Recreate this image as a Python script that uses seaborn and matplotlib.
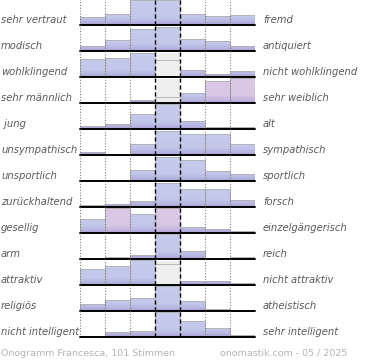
import numpy as np
import pandas as pd
import matplotlib
matplotlib.use("Agg")
import matplotlib.pyplot as plt
import seaborn as sns
from matplotlib.colors import LinearSegmentedColormap

LEFT_LABELS = ["sehr vertraut", "modisch", "wohlklingend", "sehr männlich", " jung",
               "unsympathisch", "unsportlich", "zurückhaltend", "gesellig", "arm",
               "attraktiv", "religiös", "nicht intelligent"]
RIGHT_LABELS = ["fremd", "antiquiert", "nicht wohlklingend", "sehr weiblich", "alt",
                "sympathisch", "sportlich", "forsch", "einzelgängerisch", "reich",
                "nicht attraktiv", "atheistisch", "sehr intelligent"]

# relative share per scale step (1..7), row maximum ~ 100
SCALE = [1, 2, 3, 4, 5, 6, 7]
VALUES = [
    [31, 45, 100, 100, 45, 35, 41],
    [20, 44, 87, 96, 48, 40, 21],
    [72, 75, 96, 68, 28, 11, 23],
    [0, 0, 12, 24, 39, 88, 100],
    [13, 21, 59, 100, 32, 8, 7],
    [13, 5, 45, 95, 83, 85, 44],
    [0, 0, 43, 96, 83, 41, 28],
    [9, 13, 25, 95, 73, 71, 28],
    [56, 100, 76, 100, 24, 16, 7],
    [0, 8, 16, 100, 31, 0, 9],
    [64, 75, 100, 84, 15, 15, 8],
    [29, 43, 51, 100, 40, 9, 0],
    [0, 19, 23, 100, 63, 35, 8],
]
# light grey reference value in the neutral column
REFERENCE = [0, 0, 96, 96, 0, 0, 0, 0, 0, 0, 95, 0, 0]
# highlighted (pink) cells: (row, step)
HIGHLIGHT = [(3, 6), (3, 7), (8, 2), (8, 4)]

FOOTER_LEFT = "Onogramm Francesca, 101 Stimmen"
FOOTER_RIGHT = "onomastik.com - 05 / 2025"

BLUE = LinearSegmentedColormap.from_list(
    "blue", [(0, "#a59bd0"), (0.1, "#b6b4e0"), (0.3, "#c3c8ea"), (1, "#c6ccec")])
PINK = LinearSegmentedColormap.from_list(
    "pink", [(0, "#ab9cd3"), (0.1, "#c4b2de"), (0.3, "#d8c6e6"), (1, "#dcc9e8")])
TEXT_COLOR = "#5a5a5a"

sns.set_style("white")
plt.rcParams["font.family"] = ["DejaVu Sans"]

W, H = 370, 360
fig = plt.figure(figsize=(W / 100, H / 100), dpi=100)

x0, x1 = 80, 255
row_h = 26
top0 = -1
n = len(VALUES)
ylim = (0, 104)
grad = np.linspace(0, 1, 128).reshape(-1, 1)

for i in range(n):
    top = top0 + i * row_h
    bottom = top + row_h
    ax = fig.add_axes([x0 / W, 1 - bottom / H, (x1 - x0) / W, row_h / H])

    ref = pd.DataFrame({"step": SCALE, "value": [REFERENCE[i] if s == 4 else 0 for s in SCALE]})
    sns.barplot(data=ref, x="step", y="value", ax=ax, color="#eeeeee",
                width=1.0, linewidth=0, saturation=1)
    n_ref = len(ax.patches)

    df = pd.DataFrame({"step": SCALE, "value": VALUES[i]})
    sns.barplot(data=df, x="step", y="value", ax=ax, color="#c5cbeb",
                width=1.0, edgecolor="#b0b0b0", linewidth=0.6, saturation=1)

    for k, p in enumerate(ax.patches[n_ref:]):
        step = SCALE[k]
        if p.get_height() <= 0:
            continue
        cmap = PINK if (i, step) in HIGHLIGHT else BLUE
        p.set_facecolor("none")
        bx = p.get_x()
        img = ax.imshow(grad, cmap=cmap, aspect="auto", origin="lower",
                        extent=(bx, bx + p.get_width(), ylim[0], ylim[1]), zorder=0.9)
        img.set_clip_path(p)

    ax.set_xlim(-0.5, 6.5)
    ax.set_ylim(*ylim)
    ax.axis("off")

    for xv in [-0.5, 0.5, 1.5, 4.5, 5.5, 6.5]:
        ax.axvline(xv, color="#808080", lw=0.8, ls=(0, (1, 1.5)), zorder=3)
    for xv in [2.5, 3.5]:
        ax.axvline(xv, color="black", lw=1.0, ls=(0, (3, 2)), zorder=3)
    ax.axhline(0, color="black", lw=1.4, zorder=4, clip_on=False)

    ybase = 1 - (bottom - 2) / H
    fig.text(1 / W, ybase, LEFT_LABELS[i], ha="left", va="baseline",
             fontsize=7.2, style="italic", color=TEXT_COLOR)
    fig.text(263 / W, ybase, RIGHT_LABELS[i], ha="left", va="baseline",
             fontsize=7.2, style="italic", color=TEXT_COLOR)

fig.text(1 / W, 1 - 356 / H, FOOTER_LEFT, ha="left", va="baseline",
         fontsize=6.8, color="#b4b4b4")
fig.text(347 / W, 1 - 356 / H, FOOTER_RIGHT, ha="right", va="baseline",
         fontsize=6.8, color="#b4b4b4")

fig.savefig("out.png", dpi=100)
